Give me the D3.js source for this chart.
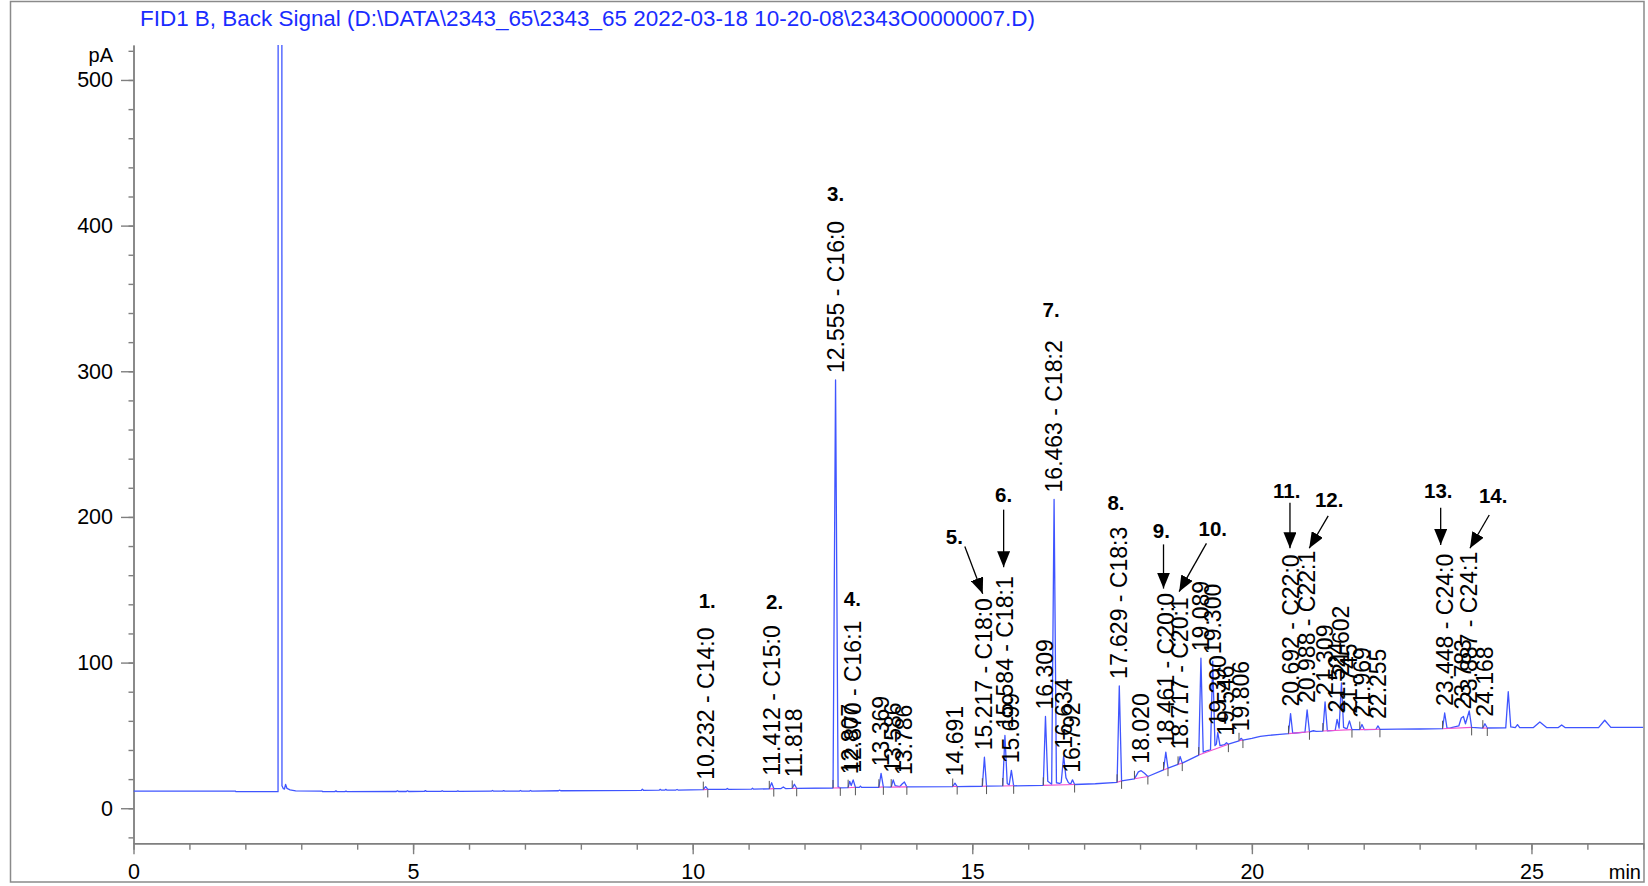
<!DOCTYPE html>
<html><head><meta charset="utf-8">
<script src="https://cdn.jsdelivr.net/npm/d3@7"></script>
<style>
body{margin:0;background:#fff}
svg{display:block}
text{font-family:"Liberation Sans",Arial,Helvetica,sans-serif}
</style></head>
<body><svg id="c" width="1648" height="886"></svg>
<script>
// ---------------- DATA ----------------
const titleText = "FID1 B, Back Signal (D:\\DATA\\2343_65\\2343_65 2022-03-18 10-20-08\\2343O0000007.D)";
const xTicks = [0, 5, 10, 15, 20, 25];
const yTicks = [0, 100, 200, 300, 400, 500];
const xUnit = "min";
const yUnit = "pA";

// detector trace [retention time (min), signal (pA)]
const trace = [
 [0.00,11.8],[1.82,11.8],[1.83,11.4],[2.585,11.4],[2.618,12000],[2.655,15.5],[2.68,13.4],[2.70,13.2],[2.72,16.4],[2.745,13.6],[2.80,12.6],[2.90,11.9],[3.37,11.8],[3.38,11.4],
 [3.60,11.4],[3.62,11.9],[3.64,11.4],[3.78,11.4],[3.80,11.8],[3.82,11.4],
 [4.70,11.5],[4.72,12.0],[4.74,11.5],[4.88,11.5],[4.90,12.0],[4.92,11.5],
 [5.20,11.6],[5.22,12.1],[5.24,11.6],[5.50,11.6],[5.52,12.0],[5.54,11.6],[5.78,11.6],[5.80,11.9],[5.82,11.6],
 [6.40,11.7],[6.42,12.2],[6.44,11.7],[6.60,11.7],[6.62,12.1],[6.64,11.7],
 [6.90,11.8],[6.92,12.2],[6.94,11.8],[7.08,11.8],[7.10,12.2],[7.12,11.8],
 [7.60,12.0],[7.62,12.4],[7.64,12.0],
 [9.08,12.2],[9.10,13.0],[9.12,12.3],[9.40,12.4],[9.42,13.0],[9.44,12.4],[9.50,12.4],[9.52,13.0],[9.54,12.4],[9.70,12.5],[9.72,12.9],[9.74,12.5],
 [10.19,12.8],[10.232,14.8],[10.27,12.9],
 [10.60,13.0],[10.62,13.6],[10.64,13.0],[11.05,13.1],[11.07,13.7],[11.09,13.1],
 [11.37,13.3],[11.412,17.5],[11.45,13.5],[11.58,13.5],[11.62,14.6],[11.66,13.5],
 [11.78,13.6],[11.818,16.5],[11.86,13.7],
 [12.51,13.9],[12.555,294],[12.60,14.6],[12.64,14.0],
 [12.78,14.1],[12.807,18.5],[12.835,15.6],[12.870,19.5],[12.91,14.4],[12.98,14.3],[13.00,15.2],[13.02,14.3],
 [13.33,14.4],[13.369,24],[13.41,14.7],
 [13.55,14.5],[13.586,19.5],[13.62,15.6],[13.66,15.2],[13.70,14.8],[13.745,16.6],[13.786,18],[13.83,14.7],
 [14.65,14.9],[14.691,17.2],[14.73,14.9],
 [15.18,15.1],[15.217,35],[15.255,15.2],
 [15.545,15.3],[15.584,50],[15.625,17],[15.66,16],[15.699,26],[15.74,15.4],
 [16.27,15.7],[16.309,63],[16.35,18.5],[16.42,16.5],[16.463,212],[16.505,17.5],[16.56,17],[16.59,17.5],[16.634,36],[16.675,21],[16.72,17.5],[16.76,16.6],[16.792,19.5],[16.83,16.3],
 [17.20,16.8],[17.59,17.8],[17.629,84],[17.67,18.8],
 [17.90,20.2],[17.97,25],[18.02,25.8],[18.08,24],[18.14,21.8],
 [18.42,26.3],[18.461,38.5],[18.50,27.5],
 [18.68,30.1],[18.717,35.5],[18.755,31],
 [19.05,36.5],[19.089,103],[19.13,38.5],[19.20,39.5],[19.26,40],[19.300,101],[19.34,43],[19.365,44],[19.390,52],[19.43,43],[19.51,43.6],[19.546,45],[19.58,44],
 [19.77,46.3],[19.806,48],[19.84,46.8],
 [20.00,48],[20.15,49.3],[20.30,50],[20.45,50.6],
 [20.655,51.2],[20.692,65],[20.73,51.5],
 [20.95,52.3],[20.988,67.5],[21.03,52.5],[21.10,53.2],[21.15,52.8],
 [21.27,53],[21.309,73],[21.35,53.2],
 [21.49,53.5],[21.524,61],[21.56,55],[21.602,86],[21.64,55.5],[21.70,54.5],[21.745,60],[21.79,54],
 [21.93,54],[21.969,57.5],[22.01,54],
 [22.22,54.2],[22.255,56.5],[22.29,54.2],
 [22.60,54.3],[23.00,54.4],
 [23.41,54.6],[23.448,65.4],[23.49,55],[23.55,55.2],[23.70,56.5],[23.745,62],[23.783,63],[23.82,58],[23.887,66.8],[23.93,55.5],
 [24.13,55],[24.168,58],[24.21,55.1],
 [24.54,55.2],[24.585,80],[24.63,55.8],[24.71,55.4],[24.75,57.4],[24.79,55.3],
 [25.03,55.3],[25.15,59.2],[25.27,55.4],
 [25.48,55.4],[25.54,57.2],[25.60,55.4],
 [26.20,55.4],[26.31,60.4],[26.42,55.5],
 [27.00,55.5]
];

// integration baselines [t start, pA start, t end, pA end]
const integrationBaselines = [
 [10.19,12.8,10.27,12.9],[11.37,13.3,11.45,13.5],[11.78,13.6,11.86,13.7],
 [12.51,13.9,12.64,14.0],[12.78,14.1,12.91,14.4],[13.33,14.4,13.41,14.7],
 [13.55,14.5,13.83,14.7],[14.65,14.9,14.73,14.9],[15.18,15.1,15.255,15.2],
 [15.545,15.3,15.74,15.4],[16.27,15.7,16.83,16.3],[17.59,17.8,17.67,18.8],
 [17.90,20.2,18.14,21.8],[18.42,26.3,18.50,27.5],[18.68,30.1,18.755,31],
 [19.05,36.5,19.58,44],[19.77,46.3,19.84,46.8],[20.655,51.2,21.03,52.5],
 [21.27,53,21.79,54],[21.93,54,22.29,54.2],[23.41,54.6,23.93,55.5],[24.13,55,24.21,55.1]
];

// peak labels
const labelTimes = [10.232,11.412,11.818,12.555,12.807,12.870,13.369,13.586,13.786,14.691,15.217,15.584,15.699,16.309,16.463,16.634,16.792,17.629,18.020,18.461,18.717,19.089,19.300,19.390,19.546,19.806,20.692,20.988,21.309,21.524,21.602,21.745,21.969,22.255,23.448,23.783,23.887,24.168];
const labelApex  = [14.8,17.5,16.5,294,18.5,19.5,24,19.5,18,17.2,35,50,26,63,212,36,19.5,84,25.8,38.5,35.5,103,101,52,45,48,65,67.5,73,61,86,60,57.5,56.5,65.4,63,66.8,58];
const labelNames = ["C14:0","C15:0","","C16:0","","C16:1","","","","","C18:0","C18:1","","","C18:2","","","C18:3","","C20:0","C20:1","","","","","","C22:0","C22:1","","","","","","","C24:0","","C24:1",""];

// numbered annotations
const annotNumbers = ["1.","2.","3.","4.","5.","6.","7.","8.","9.","10.","11.","12.","13.","14."];
const annotPeaks   = [10.232,11.412,12.555,12.870,15.217,15.584,16.463,17.629,18.461,18.717,20.692,20.988,23.448,23.887];

// ---------------- LAYOUT ----------------
// [number dx, number dy, arrow tail dx, tail dy, tip dx, tip dy] relative to (peak x, label top); null arrow = none
const annotLayout = [
 [1.6,-27,null],[2.9,-24,null],[0,-27.5,null],[-0.8,-22,null],
 [-30,-62,-19.6,-51.6,-1.7,-4.3],
 [-1.3,-82,-1.3,-66.6,-1.3,-9],
 [-3,-31,null],[-3.3,-24.4,null],
 [-4.4,-62,-2.3,-48.6,-2.3,-4.4],
 [32.7,-68.7,26.3,-54,-1,-5.7],
 [-3.9,-63.7,-0.6,-51.7,-0.6,-6.1],
 [22.1,-50.8,21.1,-34.8,2.1,-2.5],
 [-6.4,-63.1,-4,-46,-4,-8.8],
 [24,-55.8,20,-36.8,0.7,-3.5]
];

const svg = d3.select("#c");
const x = d3.scaleLinear().domain([0, 27]).range([133.5, 1643.3]);
const y = d3.scaleLinear().domain([-24, 524]).range([843.2, 45]);

// frame
svg.append("rect").attr("x",10.5).attr("y",1.5).attr("width",1633.5).attr("height",880.5)
  .attr("fill","none").attr("stroke","#8a8a8a").attr("stroke-width",1.5);

// title
svg.append("text").attr("x",140).attr("y",26).attr("fill","#1a2cff")
  .style("font-size","21.5px").attr("textLength",895).attr("lengthAdjust","spacingAndGlyphs").text(titleText);

// clip
svg.append("defs").append("clipPath").attr("id","plotclip").append("rect")
  .attr("x",x(0)).attr("y",y(524)).attr("width",x(27)-x(0)).attr("height",y(-24)-y(524));
svg.select("defs").append("marker").attr("id","arr").attr("viewBox","0 0 16 13")
  .attr("refX",16).attr("refY",6.5).attr("markerWidth",16).attr("markerHeight",13)
  .attr("markerUnits","userSpaceOnUse").attr("orient","auto")
  .append("path").attr("d","M0,0L16,6.5L0,13Z").attr("fill","#000");

// axes
const gx = svg.append("g").attr("transform",`translate(0,${y(-24)})`);
gx.call(d3.axisBottom(x).tickValues(d3.range(0,28,1)).tickSize(6.5).tickFormat("").tickSizeOuter(0));
gx.append("g").call(d3.axisBottom(x).tickValues(xTicks).tickSize(11).tickPadding(10).tickSizeOuter(0));
const gy = svg.append("g").attr("transform",`translate(${x(0)},0)`);
gy.call(d3.axisLeft(y).tickValues(d3.range(-20,521,20)).tickSize(5).tickFormat("").tickSizeOuter(0));
gy.append("g").call(d3.axisLeft(y).tickValues(yTicks).tickSize(12.5).tickPadding(8).tickSizeOuter(0));
svg.selectAll(".domain, .tick line").attr("stroke","#7f7f7f").attr("stroke-width",1.4);
svg.selectAll(".tick text").attr("fill","#000").style("font-size","21.5px").style("font-family",'"Liberation Sans",Arial,sans-serif');

svg.append("text").attr("x",113).attr("y",62).attr("text-anchor","end").style("font-size","20px").text(yUnit);
svg.append("text").attr("x",1641).attr("y",879).attr("text-anchor","end").style("font-size","20px").text(xUnit);

// trace
const plot = svg.append("g").attr("clip-path","url(#plotclip)");
plot.append("path").datum(trace)
  .attr("d", d3.line().x(d=>x(d[0])).y(d=>y(d[1])))
  .attr("fill","none").attr("stroke","#3f55ff").attr("stroke-width",1.3).attr("stroke-linejoin","round");
plot.selectAll("line.bl").data(integrationBaselines).join("line").attr("class","bl")
  .attr("x1",d=>x(d[0])).attr("y1",d=>y(d[1])).attr("x2",d=>x(d[2])).attr("y2",d=>y(d[3]))
  .attr("stroke","#f050d0").attr("stroke-width",1.1);
// peak start / end marks
plot.selectAll("line.ps").data(integrationBaselines).join("line").attr("class","ps")
  .attr("x1",d=>x(d[0])).attr("x2",d=>x(d[0])).attr("y1",d=>y(d[1])).attr("y2",d=>y(d[1])-8)
  .attr("stroke","#555").attr("stroke-width",1);
plot.selectAll("line.pe").data(integrationBaselines).join("line").attr("class","pe")
  .attr("x1",d=>x(d[2])).attr("x2",d=>x(d[2])).attr("y1",d=>y(d[3])).attr("y2",d=>y(d[3])+8)
  .attr("stroke","#555").attr("stroke-width",1);

// peak labels
const labelTop = {};
labelTimes.forEach((t,i)=>{
  const txt = t.toFixed(3) + (labelNames[i] ? " - " + labelNames[i] : "");
  const y0 = y(labelApex[i]) - 7;
  const el = svg.append("text")
    .attr("transform",`translate(${x(t)},${y0}) rotate(-90)`)
    .attr("dominant-baseline","central").attr("fill","#000")
    .style("font-size","23px").text(txt);
  labelTop[t] = y0 - el.node().getComputedTextLength();
});

// numbered annotations
annotNumbers.forEach((n,i)=>{
  const t = annotPeaks[i], L = annotLayout[i];
  const px = x(t), py = labelTop[t];
  svg.append("text").attr("x",px+L[0]).attr("y",py+L[1])
    .attr("text-anchor","middle").attr("dominant-baseline","central")
    .style("font-size","20.5px").style("font-weight","bold").text(n);
  if (L[2] !== null && L.length > 3) {
    svg.append("line").attr("x1",px+L[2]).attr("y1",py+L[3]).attr("x2",px+L[4]).attr("y2",py+L[5])
      .attr("stroke","#000").attr("stroke-width",1.3).attr("marker-end","url(#arr)");
  }
});
</script></body></html>
